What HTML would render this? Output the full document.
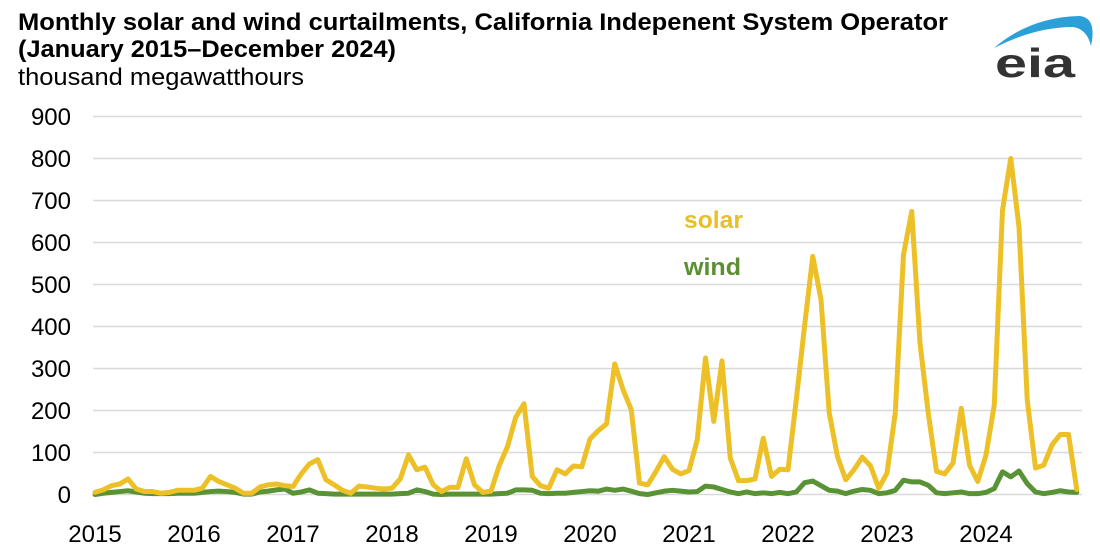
<!DOCTYPE html>
<html>
<head>
<meta charset="utf-8">
<style>
  html, body { margin:0; padding:0; background:#ffffff; }
  body { width:1100px; height:550px; overflow:hidden; }
  svg { display:block; }
  text { font-family: "Liberation Sans", Arial, sans-serif; }
</style>
</head>
<body>
<svg width="1100" height="550" viewBox="0 0 1100 550" xmlns="http://www.w3.org/2000/svg">
  <rect width="1100" height="550" fill="#ffffff"/>

  <!-- Title -->
  <text x="18" y="30" font-size="24" font-weight="bold" fill="#000" textLength="930" lengthAdjust="spacingAndGlyphs">Monthly solar and wind curtailments, California Indepenent System Operator</text>
  <text x="18" y="57" font-size="24" font-weight="bold" fill="#000" textLength="378" lengthAdjust="spacingAndGlyphs">(January 2015–December 2024)</text>
  <text x="18" y="85" font-size="24" fill="#000" textLength="286" lengthAdjust="spacingAndGlyphs">thousand megawatthours</text>

  <!-- eia logo -->
  <path d="M 994 48 Q 1030 17 1080 16 Q 1097 18 1091 46 Q 1087 29 1073 27 Q 1035 27 994 48 Z" fill="#2a9fd8"/>
  <text x="995" y="77" font-size="41" font-weight="bold" fill="#333333" textLength="80" lengthAdjust="spacingAndGlyphs">eia</text>

  <!-- Gridlines -->
  <g stroke="#d9d9d9" stroke-width="1.5">
    <line x1="93" y1="116.5" x2="1082" y2="116.5"/>
    <line x1="93" y1="158.5" x2="1082" y2="158.5"/>
    <line x1="93" y1="200.5" x2="1082" y2="200.5"/>
    <line x1="93" y1="242.5" x2="1082" y2="242.5"/>
    <line x1="93" y1="284.5" x2="1082" y2="284.5"/>
    <line x1="93" y1="326.5" x2="1082" y2="326.5"/>
    <line x1="93" y1="368.5" x2="1082" y2="368.5"/>
    <line x1="93" y1="410.5" x2="1082" y2="410.5"/>
    <line x1="93" y1="452.5" x2="1082" y2="452.5"/>
    <line x1="93" y1="494.5" x2="1082" y2="494.5"/>
  </g>

  <!-- Y axis labels -->
  <g font-size="24" fill="#000" text-anchor="end">
    <text x="71" y="125">900</text>
    <text x="71" y="167">800</text>
    <text x="71" y="209">700</text>
    <text x="71" y="251">600</text>
    <text x="71" y="293">500</text>
    <text x="71" y="335">400</text>
    <text x="71" y="377">300</text>
    <text x="71" y="419">200</text>
    <text x="71" y="461">100</text>
    <text x="71" y="503">0</text>
  </g>

  <!-- X axis labels -->
  <g font-size="24" fill="#000" text-anchor="middle">
    <text x="95" y="542">2015</text>
    <text x="194" y="542">2016</text>
    <text x="293" y="542">2017</text>
    <text x="392" y="542">2018</text>
    <text x="491" y="542">2019</text>
    <text x="590" y="542">2020</text>
    <text x="689" y="542">2021</text>
    <text x="788" y="542">2022</text>
    <text x="887" y="542">2023</text>
    <text x="986" y="542">2024</text>
  </g>

  <!-- Series -->
  <g transform="translate(95,494.5) scale(8.25,-0.42)">
    <polyline fill="none" stroke="#5a9335" stroke-width="5" vector-effect="non-scaling-stroke" stroke-linejoin="round" stroke-linecap="round"
      points="0,0 1,3 2,5 3,7 4,9 5,6 6,3 7,2 8,2 9,2 10,3 11,3
              12,3 13,5 14,7 15,8 16,7 17,5 18,1 19,1 20,6 21,8 22,11 23,13
              24,3 25,6 26,11 27,3 28,2 29,1 30,1 31,1 32,1 33,1 34,1 35,1
              36,1 37,2 38,3 39,11 40,7 41,1 42,0 43,1 44,1 45,1 46,1 47,1
              48,1 49,2 50,3 51,11 52,11 53,10 54,3 55,2 56,3 57,3 58,5 59,7
              60,9 61,8 62,13 63,10 64,13 65,8 66,2 67,0 68,4 69,8 70,10 71,8
              72,6 73,7 74,20 75,18 76,12 77,6 78,2 79,6 80,2 81,4 82,2 83,5
              84,2 85,6 86,28 87,32 88,21 89,10 90,8 91,2 92,8 93,12 94,10 95,2
              96,4 97,10 98,34 99,30 100,30 101,22 102,4 103,2 104,4 105,6 106,2 107,2
              108,5 109,14 110,54 111,42 112,56 113,26 114,6 115,2 116,5 117,9 118,6 119,5"/>
    <polyline fill="none" stroke="#ecc026" stroke-width="5" vector-effect="non-scaling-stroke" stroke-linejoin="round" stroke-linecap="round"
      points="0,5 1,11 2,21 3,25 4,37 5,13 6,7 7,7 8,3 9,5 10,10 11,10
              12,10 13,15 14,43 15,31 16,23 17,15 18,3 19,3 20,18 21,23 22,25 23,21
              24,19 25,49 26,73 27,83 28,35 29,23 30,10 31,3 32,20 33,18 34,15 35,13
              36,15 37,37 38,94 39,59 40,65 41,23 42,7 43,17 44,17 45,85 46,23 47,5
              48,8 49,69 50,114 51,184 52,216 53,43 54,21 55,15 56,59 57,49 58,68 59,66
              60,132 61,152 62,168 63,311 64,250 65,202 66,27 67,23 68,55 69,90 70,60 71,49
              72,57 73,130 74,325 75,174 76,318 77,87 78,33 79,33 80,37 81,134 82,43 83,60
              84,59 85,225 86,400 87,567 88,464 89,194 90,90 91,35 92,59 93,89 94,68 95,15
              96,51 97,194 98,571 99,674 100,360 101,194 102,55 103,49 104,75 105,205 106,70 107,31
              108,94 109,213 110,677 111,800 112,637 113,225 114,63 115,70 116,118 117,143 118,143 119,12"/>
  </g>

  <!-- Series labels -->
  <text x="684" y="228" font-size="24" font-weight="bold" fill="#e9bf27" textLength="59" lengthAdjust="spacingAndGlyphs">solar</text>
  <text x="684" y="275" font-size="24" font-weight="bold" fill="#5a8f32" textLength="57" lengthAdjust="spacingAndGlyphs">wind</text>
</svg>
</body>
</html>
